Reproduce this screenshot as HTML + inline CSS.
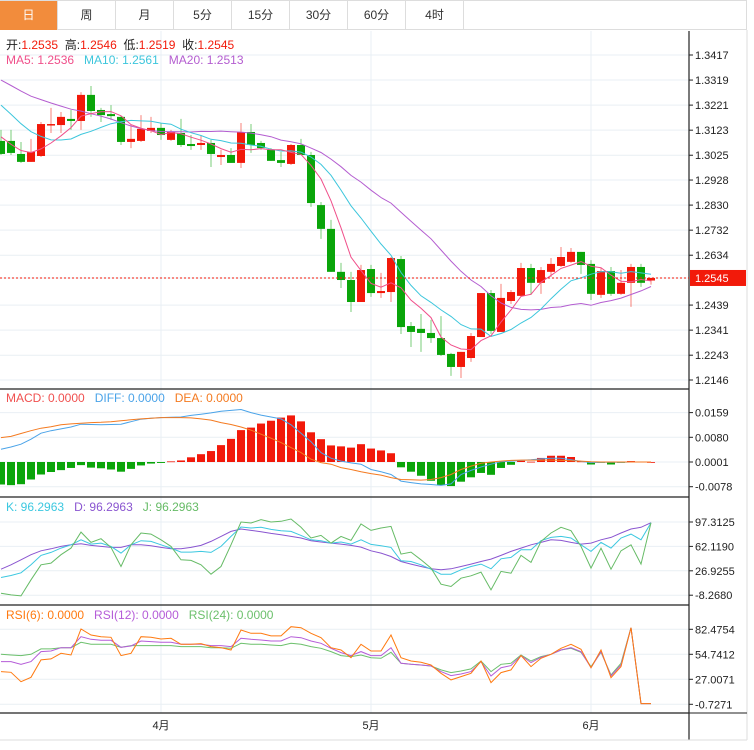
<!DOCTYPE html>
<html><head><meta charset="utf-8">
<style>
body{margin:0;background:#fff;font-family:"Liberation Sans","Noto Sans CJK SC",sans-serif;}
#wrap{position:relative;width:754px;height:750px;overflow:hidden;}
.tabs{position:absolute;left:0;top:0;width:747px;height:30px;border:1px solid #ddd;border-left:none;box-sizing:border-box;display:flex;}
.tab{width:58px;height:29px;line-height:29px;text-align:center;font-size:12px;color:#333;border-right:1px solid #ddd;box-sizing:border-box;}
.tab.on{background:#f28c3c;color:#fff;}
svg{position:absolute;left:0;top:0;}
svg text{font-family:"Liberation Sans","Noto Sans CJK SC",sans-serif;}
</style></head><body>
<div id="wrap">
<div class="tabs">
<div class="tab on">日</div>
<div class="tab">周</div>
<div class="tab">月</div>
<div class="tab">5分</div>
<div class="tab">15分</div>
<div class="tab">30分</div>
<div class="tab">60分</div>
<div class="tab">4时</div>
</div>
<svg id="chart" width="754" height="750" style="top:0"></svg>
</div>
<script>
// ---- data ----
const priorCloses=[1.3460,1.3440,1.3430,1.3420,1.3410,1.3420,1.3400,1.3410,1.3400,1.3380,1.3390,1.3370,1.3350,1.3330,1.3285,1.3180,1.3120,1.3080,1.3075];
const opens=[1.3081,1.3081,1.3030,1.2999,1.3022,1.3143,1.3143,1.3167,1.3159,1.3261,1.3202,1.3186,1.3175,1.3077,1.3081,1.3120,1.3132,1.3085,1.3112,1.3069,1.3065,1.3073,1.3018,1.3026,1.2995,1.3116,1.3073,1.3046,1.3006,1.2991,1.3065,1.3026,1.2830,1.2737,1.2569,1.2537,1.2451,1.2580,1.2486,1.2490,1.2619,1.2357,1.2346,1.2330,1.2310,1.2248,1.2197,1.2232,1.2314,1.2486,1.2334,1.2455,1.2475,1.2584,1.2526,1.2569,1.2592,1.2608,1.2647,1.2600,1.2479,1.2572,1.2483,1.2526,1.2588,1.2535];
const highs=[1.3124,1.3124,1.3077,1.3089,1.3155,1.3210,1.3194,1.3202,1.3272,1.3296,1.3210,1.3221,1.3178,1.3143,1.3182,1.3175,1.3151,1.3124,1.3167,1.3104,1.3104,1.3085,1.3046,1.3053,1.3151,1.3147,1.3081,1.3053,1.3038,1.3069,1.3089,1.3038,1.2842,1.2772,1.2604,1.2569,1.2596,1.2596,1.2565,1.2627,1.2631,1.2373,1.2404,1.2381,1.2396,1.2252,1.2256,1.2330,1.2486,1.2498,1.2522,1.2498,1.2604,1.2600,1.2588,1.2623,1.2666,1.2662,1.2647,1.2615,1.2584,1.2588,1.2576,1.2600,1.2600,1.2546];
const lows=[1.3026,1.3026,1.2995,1.2999,1.3018,1.3112,1.3112,1.3124,1.3124,1.3175,1.3155,1.3163,1.3065,1.3053,1.3077,1.3112,1.3085,1.3081,1.3057,1.3046,1.3046,1.2979,1.2987,1.2995,1.2975,1.3034,1.3046,1.3003,1.2979,1.2987,1.3026,1.2823,1.2698,1.2569,1.2506,1.2412,1.2451,1.2471,1.2467,1.2451,1.2326,1.2275,1.2256,1.2291,1.2240,1.2162,1.2154,1.2217,1.2314,1.2326,1.2334,1.2443,1.2471,1.2479,1.2483,1.2549,1.2588,1.2604,1.2561,1.2459,1.2467,1.2475,1.2479,1.2432,1.2510,1.2519];
const closes=[1.3030,1.3034,1.2999,1.3038,1.3147,1.3147,1.3175,1.3159,1.3261,1.3198,1.3182,1.3178,1.3077,1.3089,1.3128,1.3132,1.3104,1.3116,1.3065,1.3061,1.3073,1.3030,1.3026,1.2995,1.3116,1.3065,1.3053,1.3003,1.2995,1.3065,1.3026,1.2838,1.2737,1.2569,1.2537,1.2451,1.2576,1.2486,1.2494,1.2623,1.2353,1.2334,1.2330,1.2310,1.2244,1.2197,1.2256,1.2318,1.2486,1.2338,1.2467,1.2490,1.2584,1.2526,1.2576,1.2600,1.2627,1.2647,1.2596,1.2483,1.2572,1.2483,1.2526,1.2588,1.2526,1.2545];
const priceTicks=[1.3417,1.3319,1.3221,1.3123,1.3025,1.2928,1.2830,1.2732,1.2634,1.2439,1.2341,1.2243,1.2146];
const macdHist=[-0.0072,-0.0074,-0.0071,-0.0056,-0.0040,-0.0032,-0.0026,-0.0019,-0.0010,-0.0018,-0.0020,-0.0024,-0.0031,-0.0022,-0.0011,-0.0005,-0.0003,0.0002,0.0005,0.0015,0.0025,0.0035,0.0054,0.0074,0.0102,0.0110,0.0123,0.0132,0.0142,0.0149,0.0130,0.0095,0.0073,0.0053,0.0050,0.0046,0.0057,0.0043,0.0037,0.0028,-0.0017,-0.0031,-0.0044,-0.0060,-0.0074,-0.0077,-0.0063,-0.0049,-0.0035,-0.0041,-0.0019,-0.0009,0.0004,0.0001,0.0013,0.0020,0.0020,0.0016,0.0002,-0.0008,-0.0002,-0.0008,-0.0001,0.0003,0.0001,0.0000];
const diffVals=[0.0041,0.0048,0.0057,0.0073,0.0092,0.0100,0.0106,0.0112,0.0121,0.0120,0.0119,0.0120,0.0121,0.0129,0.0137,0.0140,0.0142,0.0143,0.0144,0.0149,0.0153,0.0157,0.0162,0.0165,0.0168,0.0158,0.0150,0.0144,0.0138,0.0119,0.0092,0.0065,0.0030,0.0012,0.0003,-0.0003,-0.0007,-0.0024,-0.0031,-0.0040,-0.0061,-0.0066,-0.0070,-0.0072,-0.0075,-0.0070,-0.0040,-0.0027,-0.0016,-0.0007,0.0001,0.0003,0.0005,0.0007,0.0010,0.0012,0.0012,0.0007,0.0002,-0.0002,-0.0001,-0.0001,-0.0001,0.0000,0.0000,0.0000];
const deaVals=[0.0078,0.0082,0.0091,0.0100,0.0108,0.0113,0.0119,0.0122,0.0124,0.0126,0.0127,0.0129,0.0132,0.0135,0.0138,0.0140,0.0142,0.0142,0.0142,0.0141,0.0138,0.0134,0.0126,0.0120,0.0112,0.0102,0.0089,0.0076,0.0062,0.0046,0.0030,0.0009,-0.0002,-0.0007,-0.0018,-0.0024,-0.0031,-0.0037,-0.0042,-0.0050,-0.0056,-0.0057,-0.0058,-0.0056,-0.0050,-0.0040,-0.0024,-0.0013,-0.0004,0.0000,0.0003,0.0005,0.0006,0.0006,0.0006,0.0006,0.0005,0.0004,0.0003,0.0001,0.0000,0.0000,0.0000,0.0000,0.0000,0.0000];
const macdTicks=[0.0159,0.0080,0.0001,-0.0078];
const kVals=[17.3,20.2,24.0,35.6,49.1,53.4,59.7,64.5,71.7,65.5,66.9,62.1,52.5,64.5,70.3,69.3,64.5,59.7,53.9,53.9,54.9,53.4,62.1,76.6,90.1,88.6,89.6,86.7,84.8,83.8,78.0,71.7,70.3,66.9,68.4,65.5,71.7,65.0,63.1,60.7,41.4,40.4,35.6,29.3,22.1,22.1,28.4,33.2,36.6,29.8,44.3,46.2,57.3,57.3,70.3,75.1,76.6,74.2,64.5,54.9,67.9,59.7,74.2,79.9,71.7,96.3];
const dVals=[29.3,35.6,42.8,50.1,55.8,58.7,62.1,64.5,66.0,63.6,62.1,60.7,60.7,64.5,64.5,63.1,60.7,58.7,58.7,60.7,63.6,69.3,76.6,83.8,87.2,85.2,83.3,80.9,79.0,76.6,74.2,70.3,68.4,66.9,65.5,63.6,61.1,55.8,52.5,47.6,40.4,36.6,33.2,29.8,28.4,29.8,33.2,36.6,40.4,43.8,49.1,54.9,59.7,64.5,67.9,71.7,70.8,67.9,65.5,66.9,71.7,75.1,81.4,87.2,89.6,96.3];
const jVals=[-5.4,-7.8,-9.2,13.9,35.6,38.0,50.1,59.7,82.8,67.9,73.2,60.7,33.2,64.5,81.4,79.9,71.7,62.1,42.8,41.9,35.6,22.1,33.2,64.5,97.3,95.8,100.7,97.3,98.3,101.6,89.6,74.2,78.0,66.9,76.6,70.8,94.4,85.2,88.6,91.0,51.0,53.9,42.8,30.8,7.6,4.3,16.3,19.7,25.0,-0.6,26.0,23.5,49.1,39.0,69.3,81.4,89.6,84.8,62.1,30.8,59.7,29.3,55.8,64.5,36.6,96.3];
const kdjTicks=[97.3125,62.1190,26.9255,-8.2680];
const rsi6=[35.5,34.8,24.4,29.2,48.5,49.6,55.8,54.0,82.8,76.2,74.3,73.6,53.3,55.8,74.3,73.6,71.7,72.5,65.8,65.8,66.6,63.3,62.1,59.5,81.7,78.0,78.0,75.1,75.1,85.4,84.3,78.0,73.2,62.1,59.5,51.0,65.8,58.4,58.4,76.2,51.0,47.3,45.9,42.9,33.7,26.3,30.0,33.7,47.3,23.3,34.4,37.4,53.3,41.1,50.3,54.7,61.4,65.8,60.3,39.9,59.5,28.8,41.1,84.3,0,0];
const rsi12=[46.6,46.6,43.6,46.6,57.7,58.4,62.1,62.1,74.3,71.4,70.3,70.3,62.5,64.0,69.5,68.8,68.0,68.0,65.8,65.8,65.8,64.4,64.4,63.3,72.5,71.4,70.6,69.5,69.5,74.3,73.2,69.5,67.0,61.4,56.6,53.3,57.7,53.3,53.3,62.1,44.8,43.6,42.9,41.8,35.5,31.1,32.9,35.5,46.6,30.7,39.9,42.2,53.3,45.5,51.4,54.7,59.5,62.1,57.7,39.9,57.7,30.7,42.9,84.3,0,0];
const rsi24=[54.7,54.0,53.3,54.7,60.7,60.7,62.1,62.1,68.0,65.8,65.8,65.8,62.5,64.4,64.4,64.4,64.4,64.4,63.3,63.3,63.3,62.1,62.1,61.4,67.0,65.8,65.8,65.1,64.4,67.0,65.8,63.3,61.4,57.7,53.3,52.2,54.0,51.0,50.3,57.0,44.8,43.6,42.9,41.8,37.4,34.4,36.2,38.5,47.3,35.5,43.6,44.8,54.0,47.3,52.2,54.7,59.5,61.4,57.0,41.1,57.0,31.8,44.8,84.3,0,0];
const rsiTicks=[82.4754,54.7412,27.0071,-0.7271];
const monthLabels=["4月","5月","6月"];
const monthIdx=[16,37,59];
const lastPrice=1.2545;

// ---- helpers ----
const NS="http://www.w3.org/2000/svg";
const svg=document.getElementById('chart');
function mk(tag,attrs,parent){const e=document.createElementNS(NS,tag);for(const k in attrs)e.setAttribute(k,attrs[k]);(parent||svg).appendChild(e);return e;}
function txt(x,y,s,fill,size,anchor){const t=mk('text',{x:x,y:y,fill:fill,'font-size':size||11,'text-anchor':anchor||'start'});t.textContent=s;return t;}
const xAt=i=>1+10*i;
const AX=689;
const yP=p=>55+(1.3417-p)/0.1271*325;
const yM=v=>462-(v-0.0001)/0.0079*24.7;
const yK=v=>522+(97.3125-v)/35.19*24.4;
const yR=v=>629.3+(82.4754-v)/83.2*75;

function hgrid(y){const l=mk('line',{x1:0,x2:AX,y1:y,y2:y,stroke:'#e9eff4','stroke-width':1});

}
priceTicks.forEach(p=>hgrid(yP(p)));hgrid(yP(lastPrice));
macdTicks.forEach(v=>hgrid(yM(v)));
kdjTicks.forEach(v=>hgrid(yK(v)));
rsiTicks.forEach(v=>hgrid(yR(v)));
monthIdx.forEach(i=>{const l=mk('line',{x1:xAt(i),x2:xAt(i),y1:31,y2:713,stroke:'#e9eff4'});

});
[[389],[497],[605],[713]].forEach(a=>{const l=mk('line',{x1:0,x2:AX,y1:a[0],y2:a[0],stroke:'#222','stroke-width':1.2});

});
mk('line',{x1:AX,x2:AX,y1:31,y2:740,stroke:'#222','stroke-width':1.2});
mk('line',{x1:747,x2:747,y1:30,y2:740,stroke:'#ddd'});
mk('line',{x1:0,x2:747,y1:740,y2:740,stroke:'#ddd'});
mk('line',{x1:AX,x2:747,y1:713,y2:713,stroke:'#222'});

function axisLabels(ticks,fn,fmt){ticks.forEach(v=>{const y=fn(v);mk('line',{x1:AX,x2:AX+4,y1:y,y2:y,stroke:'#222'});
const t=txt(AX+6,y+4,fmt(v),'#222',11);

});}
axisLabels(priceTicks,yP,v=>v.toFixed(4));
axisLabels(macdTicks,yM,v=>v.toFixed(4));
axisLabels(kdjTicks,yK,v=>v.toFixed(4));
axisLabels(rsiTicks,yR,v=>v.toFixed(4));
monthIdx.forEach((i,k)=>{const t=txt(xAt(i),729,monthLabels[k],'#222',11,'middle');

});

closes.forEach((c,i)=>{const o=opens[i],up=c>=o,col=up?'#f2190a':'#0aa50a';const x=xAt(i);
const g=mk('g',{});


mk('line',{x1:x,x2:x,y1:yP(highs[i]),y2:yP(lows[i]),stroke:col,'stroke-width':1,opacity:0.55},g);
const top=yP(Math.max(o,c)),bot=yP(Math.min(o,c));
mk('rect',{x:x-4,y:top,width:8,height:Math.max(1.5,bot-top),fill:col},g);});

const allC=priorCloses.concat(closes);
function ma(n){return closes.map((c,i)=>{const j=i+priorCloses.length;let s=0,cnt=0;for(let k=Math.max(0,j-n+1);k<=j;k++){s+=allC[k];cnt++;}return s/cnt;});}
function poly(vals,fn,col,name){const pts=vals.map((v,i)=>xAt(i)+','+fn(v).toFixed(1)).join(' ');
const p=mk('polyline',{points:pts,fill:'none',stroke:col,'stroke-width':1});

}
poly(ma(20),yP,'#b45dd0','ma20-line');
poly(ma(10),yP,'#3cc6dc','ma10-line');
poly(ma(5),yP,'#f04f8a','ma5-line');

const ly=yP(lastPrice);
const dl=mk('line',{x1:0,x2:AX,y1:ly,y2:ly,stroke:'#f21a0a','stroke-dasharray':'2,2'});


mk('rect',{x:AX+1,y:ly-8,width:56,height:16,fill:'#f21a0a'});
const lp=txt(AX+6,ly+4,lastPrice.toFixed(4),'#fff',11);



macdHist.forEach((v,i)=>{const y0=yM(0.0001),y1=yM(v+0.0001);const r=mk('rect',{x:xAt(i)-4,y:Math.min(y0,y1),width:8,height:Math.max(0.8,Math.abs(y1-y0)),fill:v>=0?'#f2190a':'#0aa50a'});

});
poly(diffVals,v=>yM(v+0.0001),'#4aa3e8','diff-line');
poly(deaVals,v=>yM(v+0.0001),'#f47a20','dea-line');

poly(dVals,yK,'#8a55d0','kdj-d-line');
poly(kVals,yK,'#3cc8e0','kdj-k-line');
poly(jVals,yK,'#66bb66','kdj-j-line');

poly(rsi24,yR,'#6cc06c','rsi24-line');
poly(rsi12,yR,'#b55cd8','rsi12-line');
poly(rsi6,yR,'#ff7a10','rsi6-line');

function legend(y,items,name){let x=6;const g=mk('text',{x:x,y:y,'font-size':12});


items.forEach(it=>{const s=document.createElementNS(NS,'tspan');s.setAttribute('fill',it[1]);s.textContent=it[0];g.appendChild(s);});}
legend(49,[['开:','#222'],['1.2535  ','#f21a0a'],['高:','#222'],['1.2546  ','#f21a0a'],['低:','#222'],['1.2519  ','#f21a0a'],['收:','#222'],['1.2545','#f21a0a']],'ohlc-legend');
legend(64,[['MA5: 1.2536   ','#f04f8a'],['MA10: 1.2561   ','#3cc6dc'],['MA20: 1.2513','#b45dd0']],'ma-legend');
legend(402,[['MACD: 0.0000   ','#f0504f'],['DIFF: 0.0000   ','#4aa3e8'],['DEA: 0.0000','#f47a20']],'macd-legend');
legend(511,[['K: 96.2963   ','#3cc8e0'],['D: 96.2963   ','#8a55d0'],['J: 96.2963','#66bb66']],'kdj-legend');
legend(619,[['RSI(6): 0.0000   ','#ff7a10'],['RSI(12): 0.0000   ','#b55cd8'],['RSI(24): 0.0000','#6cc06c']],'rsi-legend');
document.querySelectorAll('svg text').forEach(t=>t.style.whiteSpace='pre');
</script>
</body></html>
